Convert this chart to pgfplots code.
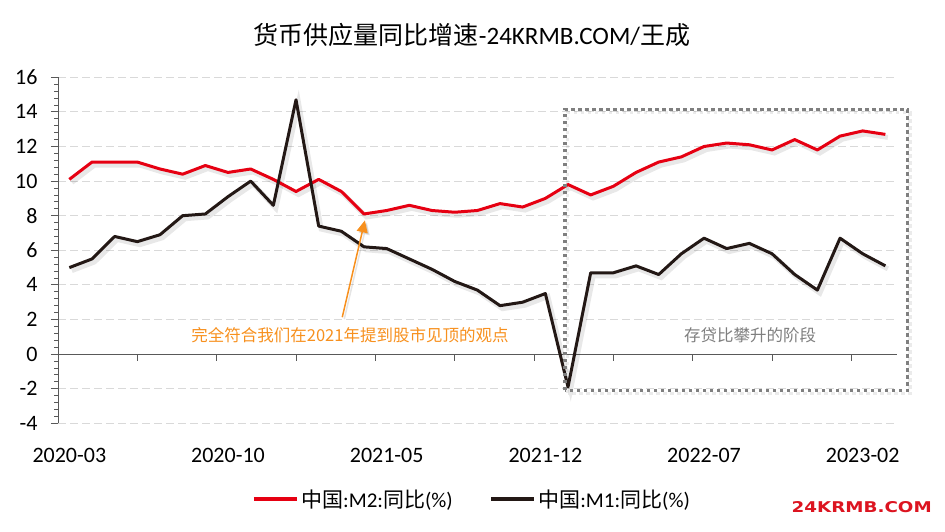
\documentclass[border=0pt]{standalone}
\usepackage{fontspec}
\setmainfont{Carlito}
\newfontfamily\cjk{Noto Sans CJK SC}
\newfontfamily\logofont{DejaVu Sans}
\usepackage{pgfplots}
\usepackage{pgfplotstable}
\pgfplotsset{compat=1.18}
\usetikzlibrary{arrows.meta}
\definecolor{m2red}{HTML}{E60012}
\definecolor{m1blk}{HTML}{231815}
\definecolor{axgray}{HTML}{595959}
\definecolor{gridgray}{HTML}{D9D9D9}
\definecolor{boxgray}{HTML}{7F7F7F}
\definecolor{annor}{HTML}{F7901E}
\definecolor{logored}{HTML}{DC1420}
\newcommand\fs[1]{\fontsize{#1}{#1}\selectfont}

\pgfplotstableread{
x m2 m1
0 10.1 5.0
1 11.1 5.5
2 11.1 6.8
3 11.1 6.5
4 10.7 6.9
5 10.4 8.0
6 10.9 8.1
7 10.5 9.1
8 10.7 10.0
9 10.1 8.6
10 9.4 14.7
11 10.1 7.4
12 9.4 7.1
13 8.1 6.2
14 8.3 6.1
15 8.6 5.5
16 8.3 4.9
17 8.2 4.2
18 8.3 3.7
19 8.7 2.8
20 8.5 3.0
21 9.0 3.5
22 9.8 -1.9
23 9.2 4.7
24 9.7 4.7
25 10.5 5.1
26 11.1 4.6
27 11.4 5.8
28 12.0 6.7
29 12.2 6.1
30 12.1 6.4
31 11.8 5.8
32 12.4 4.6
33 11.8 3.7
34 12.6 6.7
35 12.9 5.8
36 12.7 5.1
}\datatable

\begin{document}
\begin{tikzpicture}
\path[use as bounding box] (0,0) rectangle (945bp,532bp);
\begin{axis}[
  at={(58bp,108.7bp)}, anchor=south west,
  scale only axis, width=838.7bp, height=346bp,
  xmin=-0.5, xmax=36.5, ymin=-4, ymax=16,
  clip=false,
  axis x line*=bottom, axis y line*=left,
  x axis line style={draw=none,-},
  y axis line style={draw=axgray, line width=1bp,-},
  xtick={0,7,14,21,28,35},
  xticklabels={2020-03,2020-10,2021-05,2021-12,2022-07,2023-02},
  xtick style={draw=none},
  xticklabel style={font=\fs{22bp}, yshift=-14bp},
  ytick={-4,-2,...,16},
  minor y tick num=4,
  tick align=outside,
  ytick style={draw=axgray, line width=0.8bp},
  minor tick style={draw=axgray, line width=0.6bp},
  major tick length=7bp, minor tick length=4bp,
  yticklabel style={font=\fs{22bp}, xshift=-10bp},
  /pgf/number format/assume math mode=true,
  ymajorgrids,
  major grid style={draw=gridgray, line width=1bp, dash pattern=on 8bp off 4bp},
  legend style={at={(0.494,-0.219)}, anchor=center, draw=none, fill=none,
    legend columns=2, font=\fs{21bp},
    /tikz/every even column/.append style={column sep=34bp},
    nodes={inner sep=2.5bp}},
  legend cell align=left,
  legend image code/.code={\draw[#1, line width=3.5bp] (0bp,0bp) -- (43bp,0bp);},
]
% x axis line at zero with ticks
\draw[axgray, line width=1bp] (axis cs:-0.5,0) -- (axis cs:36.5,0);
\pgfplotsinvokeforeach{3,6.5,10,13.5,17,20.5,24,27.5,31,34.5}{
  \draw[axgray, line width=1bp] (axis cs:#1,0) -- ([yshift=-7bp]axis cs:#1,0);
}
% shadows
\addplot[black, opacity=0.09, line width=5bp, xshift=2.5bp, yshift=-3bp, forget plot] table[x=x,y=m2] {\datatable};
\addplot[black, opacity=0.09, line width=5bp, xshift=2.5bp, yshift=-3bp, forget plot] table[x=x,y=m1] {\datatable};
% series
\addplot[m2red, line width=3bp, line join=round] table[x=x,y=m2] {\datatable};
\addlegendentry{{\cjk 中国}:M2:{\cjk 同比}(\%)}
\addplot[m1blk, line width=3bp, line join=round] table[x=x,y=m1] {\datatable};
\addlegendentry{{\cjk 中国}:M1:{\cjk 同比}(\%)}
% dotted box
\draw[black, opacity=0.08, line width=3.5bp, dash pattern=on 3.5bp off 3.5bp, xshift=2.5bp, yshift=-3bp] (axis cs:21.87,-2.1) rectangle (axis cs:36.98,14.14);
\draw[boxgray, line width=3.5bp, dash pattern=on 3.5bp off 3.5bp] (axis cs:21.87,-2.1) rectangle (axis cs:36.98,14.14);
% arrow
\draw[black, opacity=0.1, line width=1.5bp, -{Triangle[length=12bp,width=11bp]}, xshift=2bp, yshift=-2bp] (axis cs:12.04,2.13) -- (axis cs:13.04,7.73);
\draw[annor, line width=1.5bp, -{Triangle[length=12bp,width=11bp]}] (axis cs:12.04,2.13) -- (axis cs:13.04,7.73);
% annotations
\node[annor, font=\cjk\fs{16.5bp}, inner sep=0pt] at (axis cs:12.38,1.12) {完全符合我们在2021年提到股市见顶的观点};
\node[boxgray, font=\cjk\fs{16.5bp}, inner sep=0pt] at (axis cs:30.03,1.12) {存贷比攀升的阶段};
\end{axis}
% title
\node[font=\fs{25bp}, inner sep=0pt] at (472bp,497bp) {{\cjk 货币供应量同比增速}-24KRMB.COM/{\cjk 王成}};
% logo
\node[logored, inner sep=0pt] at (861.7bp,25.3bp) {\resizebox{140bp}{11bp}{\logofont\bfseries 24KRMB.COM}};
\end{tikzpicture}
\end{document}
